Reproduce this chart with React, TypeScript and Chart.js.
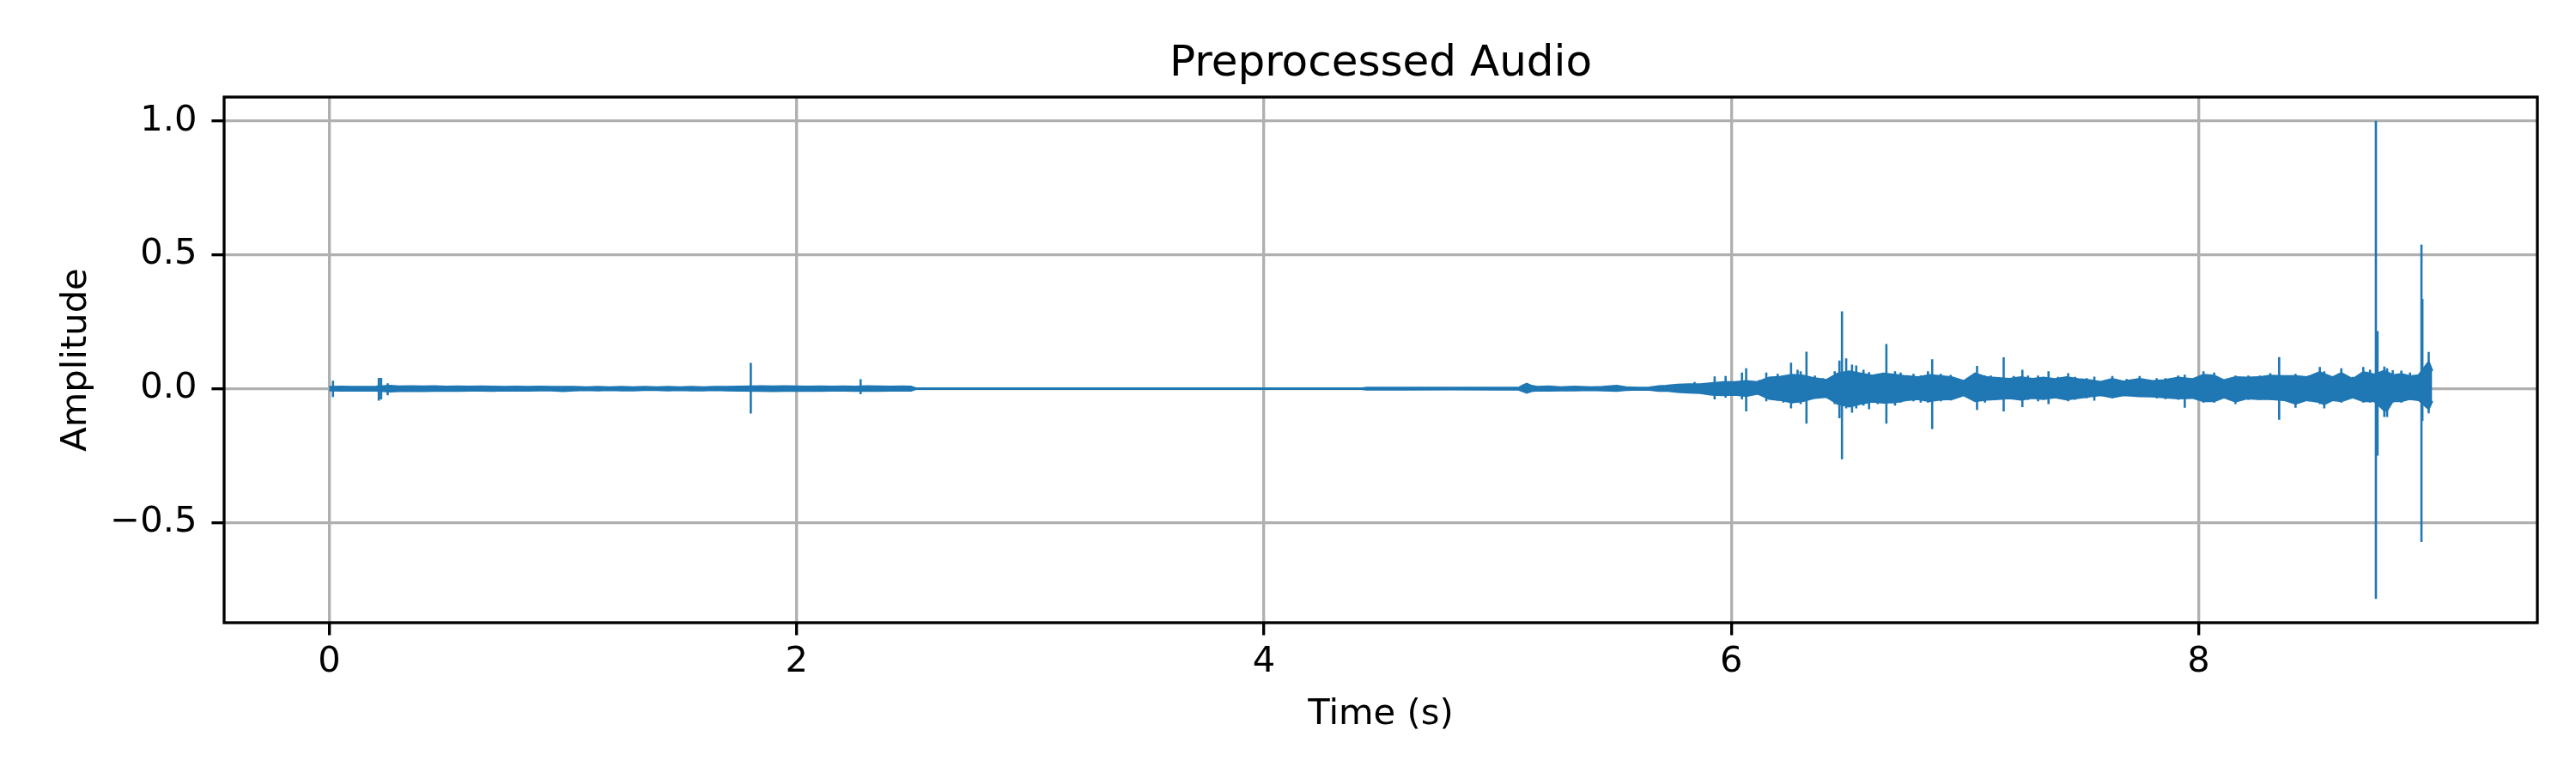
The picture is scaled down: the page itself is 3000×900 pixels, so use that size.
import React, { useEffect, useRef } from "react";
import { Chart, registerables } from "chart.js";

Chart.register(...registerables);

// ---- Data ----
const TITLE = "Preprocessed Audio";
const X_LABEL = "Time (s)";
const Y_LABEL = "Amplitude";

const X_TICKS = [0, 2, 4, 6, 8];
const Y_TICKS = [-0.5, 0, 0.5, 1.0];
const Y_TICK_LABELS = ["\u22120.5", "0.0", "0.5", "1.0"];

// Core envelope of the dense waveform (time s, upper, lower)
const ENV_T = [
  0.0, 0.05, 0.1, 0.15, 0.2, 0.26, 0.3, 0.35, 0.4, 0.45,
  0.5, 0.55, 0.6, 0.65, 0.7, 0.75, 0.8, 0.85, 0.9, 0.95,
  1.0, 1.05, 1.1, 1.15, 1.2, 1.25, 1.3, 1.35, 1.4, 1.45,
  1.5, 1.55, 1.6, 1.65, 1.7, 1.75, 1.85, 1.9, 1.95, 2.0,
  2.05, 2.1, 2.15, 2.2, 2.25, 2.3, 2.35, 2.4, 2.45, 2.49,
  2.51, 3.0, 3.5, 4.0, 4.42, 4.44, 4.6, 4.8, 5.0, 5.09,
  5.11, 5.125, 5.145, 5.17, 5.22, 5.27, 5.33, 5.4, 5.45, 5.51,
  5.55, 5.6, 5.65, 5.69, 5.721, 5.77, 5.819, 5.868, 5.917, 5.966,
  6.015, 6.064, 6.113, 6.162, 6.211, 6.26, 6.309, 6.358, 6.407, 6.456,
  6.505, 6.554, 6.603, 6.652, 6.701, 6.75, 6.799, 6.848, 6.897, 6.946,
  6.995, 7.044, 7.093, 7.142, 7.191, 7.24, 7.289, 7.337, 7.386, 7.435,
  7.484, 7.533, 7.582, 7.631, 7.68, 7.748, 7.803, 7.852, 7.913, 7.974,
  8.021, 8.067, 8.109, 8.158, 8.207, 8.256, 8.305, 8.366, 8.415, 8.464,
  8.519, 8.538, 8.574, 8.611, 8.66, 8.705, 8.734, 8.752, 8.795, 8.807,
  8.831, 8.868, 8.905, 8.942, 8.985, 9.0,
];
const ENV_HI = [
  0.006, 0.007, 0.006, 0.006, 0.007, 0.01, 0.008, 0.009, 0.008, 0.009,
  0.007, 0.008, 0.007, 0.008, 0.007, 0.006, 0.007, 0.006, 0.007, 0.006,
  0.006, 0.006, 0.005, 0.006, 0.005, 0.006, 0.005, 0.006, 0.005, 0.006,
  0.005, 0.006, 0.005, 0.006, 0.006, 0.007, 0.009, 0.008, 0.009, 0.008,
  0.007, 0.008, 0.007, 0.008, 0.007, 0.009, 0.008, 0.007, 0.008, 0.007,
  0.001, 0.0008, 0.0008, 0.0008, 0.001, 0.003, 0.003, 0.003, 0.003, 0.003,
  0.012, 0.018, 0.01, 0.006, 0.008, 0.005, 0.007, 0.005, 0.006, 0.01,
  0.005, 0.003, 0.004, 0.009, 0.01, 0.014, 0.016, 0.016, 0.02, 0.024,
  0.024, 0.028, 0.024, 0.041, 0.044, 0.051, 0.048, 0.038, 0.032, 0.056,
  0.064, 0.056, 0.048, 0.056, 0.051, 0.046, 0.042, 0.05, 0.046, 0.042,
  0.028, 0.056, 0.042, 0.039, 0.036, 0.042, 0.036, 0.041, 0.035, 0.042,
  0.035, 0.031, 0.025, 0.036, 0.026, 0.036, 0.028, 0.031, 0.041, 0.035,
  0.051, 0.048, 0.031, 0.042, 0.041, 0.042, 0.048, 0.046, 0.046, 0.042,
  0.061, 0.054, 0.042, 0.058, 0.035, 0.061, 0.056, 0.052, 0.066, 0.061,
  0.05, 0.054, 0.046, 0.05, 0.1, 0.066,
];
const ENV_LO = [
  -0.006, -0.007, -0.007, -0.006, -0.007, -0.01, -0.009, -0.008, -0.009, -0.008,
  -0.007, -0.008, -0.007, -0.007, -0.008, -0.006, -0.007, -0.007, -0.006, -0.006,
  -0.009, -0.006, -0.005, -0.006, -0.005, -0.006, -0.006, -0.005, -0.005, -0.006,
  -0.005, -0.006, -0.006, -0.005, -0.006, -0.007, -0.008, -0.009, -0.008, -0.008,
  -0.007, -0.008, -0.007, -0.007, -0.008, -0.008, -0.008, -0.007, -0.007, -0.007,
  -0.001, -0.0008, -0.0008, -0.0008, -0.001, -0.003, -0.003, -0.002, -0.003, -0.003,
  -0.01, -0.015, -0.009, -0.006, -0.007, -0.006, -0.006, -0.005, -0.006, -0.008,
  -0.005, -0.003, -0.004, -0.008, -0.007, -0.012, -0.014, -0.016, -0.022, -0.024,
  -0.022, -0.027, -0.018, -0.038, -0.042, -0.051, -0.046, -0.034, -0.03, -0.056,
  -0.066, -0.056, -0.048, -0.052, -0.05, -0.042, -0.038, -0.046, -0.04, -0.038,
  -0.024, -0.046, -0.041, -0.038, -0.035, -0.041, -0.034, -0.038, -0.032, -0.04,
  -0.034, -0.029, -0.024, -0.032, -0.024, -0.028, -0.029, -0.032, -0.036, -0.034,
  -0.046, -0.046, -0.032, -0.048, -0.036, -0.038, -0.038, -0.042, -0.056, -0.042,
  -0.05, -0.058, -0.042, -0.046, -0.032, -0.046, -0.046, -0.046, -0.081, -0.081,
  -0.046, -0.046, -0.038, -0.042, -0.076, -0.046,
];

// Individual spikes standing out of the band (time s, peak, trough)
const SPIKE_T = [
  0.016, 0.212, 0.222, 0.25, 1.804, 2.274, 5.843, 5.929, 5.976, 6.046,
  6.064, 6.119, 6.15, 6.174, 6.199, 6.223, 6.256, 6.284, 6.297, 6.322,
  6.358, 6.392, 6.443, 6.463, 6.474, 6.492, 6.517, 6.535, 6.566, 6.59,
  6.627, 6.664, 6.701, 6.725, 6.78, 6.811, 6.842, 6.86, 6.897, 6.939,
  7.019, 7.052, 7.086, 7.111, 7.166, 7.209, 7.246, 7.27, 7.313, 7.358,
  7.399, 7.442, 7.472, 7.521, 7.554, 7.631, 7.693, 7.748, 7.821, 7.858,
  7.913, 7.941, 8.021, 8.067, 8.158, 8.213, 8.262, 8.307, 8.345, 8.415,
  8.47, 8.519, 8.538, 8.611, 8.66, 8.705, 8.734, 8.759, 8.766, 8.795,
  8.807, 8.831, 8.868, 8.905, 8.954, 8.958, 8.985,
];
const SPIKE_HI = [
  0.03, 0.04, 0.04, 0.02, 0.096, 0.035, 0.025, 0.046, 0.047, 0.06,
  0.076, 0.032, 0.06, 0.039, 0.055, 0.049, 0.097, 0.071, 0.065, 0.138,
  0.049, 0.039, 0.065, 0.105, 0.289, 0.113, 0.09, 0.087, 0.071, 0.062,
  0.055, 0.167, 0.065, 0.06, 0.055, 0.049, 0.065, 0.11, 0.055, 0.051,
  0.039, 0.085, 0.049, 0.049, 0.117, 0.047, 0.071, 0.049, 0.049, 0.065,
  0.044, 0.058, 0.044, 0.039, 0.045, 0.047, 0.036, 0.047, 0.039, 0.039,
  0.049, 0.052, 0.065, 0.06, 0.049, 0.049, 0.049, 0.058, 0.118, 0.055,
  0.049, 0.081, 0.065, 0.076, 0.044, 0.081, 0.071, 1.0, 0.215, 0.083,
  0.076, 0.069, 0.067, 0.06, 0.538, 0.335, 0.137,
];
const SPIKE_LO = [
  -0.031, -0.045, -0.04, -0.025, -0.093, -0.021, -0.017, -0.04, -0.034, -0.04,
  -0.085, -0.024, -0.047, -0.036, -0.045, -0.052, -0.074, -0.052, -0.058, -0.131,
  -0.036, -0.031, -0.058, -0.111, -0.264, -0.074, -0.09, -0.074, -0.063, -0.077,
  -0.058, -0.131, -0.063, -0.052, -0.047, -0.052, -0.052, -0.151, -0.047, -0.044,
  -0.036, -0.079, -0.052, -0.042, -0.085, -0.036, -0.069, -0.042, -0.047, -0.058,
  -0.036, -0.047, -0.042, -0.036, -0.045, -0.036, -0.026, -0.028, -0.036, -0.039,
  -0.042, -0.071, -0.052, -0.052, -0.058, -0.042, -0.042, -0.042, -0.116, -0.071,
  -0.047, -0.058, -0.074, -0.052, -0.036, -0.052, -0.052, -0.785, -0.25, -0.106,
  -0.106, -0.052, -0.052, -0.042, -0.573, -0.12, -0.092,
];

const BLUE = "#1f77b4";
const FONT = "'DejaVu Sans', 'Liberation Sans', sans-serif";
const PX = 300 / 72; // points to pixels at 300 dpi

export default function App() {
  const ref = useRef<HTMLCanvasElement | null>(null);

  useEffect(() => {
    document.body.style.margin = "0";
    const canvas = ref.current;
    if (!canvas) return;

    const upper = ENV_T.map((t, i) => ({ x: t, y: ENV_HI[i] }));
    const lower = ENV_T.map((t, i) => ({ x: t, y: ENV_LO[i] }));
    const spikes: { x: number; y: number | null }[] = [];
    SPIKE_T.forEach((t, i) => {
      spikes.push({ x: t, y: SPIKE_LO[i] });
      spikes.push({ x: t, y: SPIKE_HI[i] });
      spikes.push({ x: t, y: null });
    });

    const allY = [...ENV_HI, ...ENV_LO, ...SPIKE_HI, ...SPIKE_LO];
    const yMinD = Math.min(...allY);
    const yMaxD = Math.max(...allY);
    const yR = yMaxD - yMinD;
    const xMinD = Math.min(ENV_T[0], ...SPIKE_T);
    const xMaxD = Math.max(ENV_T[ENV_T.length - 1], ...SPIKE_T);
    const xR = xMaxD - xMinD;

    const frame = {
      id: "frame",
      afterDraw(chart: any) {
        const { ctx, chartArea } = chart;
        ctx.save();
        ctx.strokeStyle = "#000";
        ctx.lineWidth = 0.8 * PX;
        ctx.strokeRect(chartArea.left, chartArea.top, chartArea.right - chartArea.left, chartArea.bottom - chartArea.top);
        ctx.restore();
      },
    };

    const lineCommon = {
      borderColor: BLUE,
      backgroundColor: BLUE,
      borderWidth: 2.6,
      pointRadius: 0,
      tension: 0,
    };

    const chart = new Chart(canvas, {
      type: "line",
      data: {
        datasets: [
          { ...lineCommon, label: "upper", data: upper, fill: false },
          { ...lineCommon, label: "lower", data: lower, fill: "-1" },
          { ...lineCommon, label: "spikes", data: spikes as any, fill: false, spanGaps: false },
        ],
      },
      options: {
        animation: false,
        responsive: false,
        devicePixelRatio: 1,
        layout: { padding: { left: 0, right: 45, top: 0, bottom: 0 } },
        plugins: {
          legend: { display: false },
          tooltip: { enabled: false },
          title: {
            display: true,
            fullSize: false,
            text: TITLE,
            color: "#000",
            font: { family: FONT, size: 12 * PX, weight: "normal", lineHeight: 1.2 },
            padding: { top: 45, bottom: 8 },
          },
        },
        scales: {
          x: {
            type: "linear",
            min: xMinD - 0.05 * xR,
            max: xMaxD + 0.05 * xR,
            afterBuildTicks: (scale: any) => {
              scale.ticks = X_TICKS.map((v) => ({ value: v }));
            },
            afterFit: (scale: any) => {
              scale.height = 175;
            },
            ticks: {
              color: "#000",
              font: { family: FONT, size: 10 * PX },
              padding: 6.5,
              maxRotation: 0,
              autoSkip: false,
              callback: (v: any) => String(v),
            },
            grid: {
              color: "#b0b0b0",
              lineWidth: 0.8 * PX,
              tickColor: "#000",
              tickWidth: 0.8 * PX,
              tickLength: 3.5 * PX,
            },
            border: { display: false },
            title: {
              display: true,
              text: X_LABEL,
              color: "#000",
              font: { family: FONT, size: 10 * PX, lineHeight: 1.2 },
              padding: { top: 0, bottom: 43 },
            },
          },
          y: {
            type: "linear",
            min: yMinD - 0.05 * yR,
            max: yMaxD + 0.05 * yR,
            afterBuildTicks: (scale: any) => {
              scale.ticks = Y_TICKS.map((v) => ({ value: v }));
            },
            afterFit: (scale: any) => {
              scale.width = 261;
            },
            ticks: {
              color: "#000",
              font: { family: FONT, size: 10 * PX },
              padding: 17,
              autoSkip: false,
              callback: (_v: any, i: number) => Y_TICK_LABELS[i],
            },
            grid: {
              color: "#b0b0b0",
              lineWidth: 0.8 * PX,
              tickColor: "#000",
              tickWidth: 0.8 * PX,
              tickLength: 3.5 * PX,
            },
            border: { display: false },
            title: {
              display: true,
              text: Y_LABEL,
              color: "#000",
              font: { family: FONT, size: 10 * PX, lineHeight: 1.2 },
              padding: { top: 64, bottom: 0 },
            },
          },
        },
      },
      plugins: [frame],
    } as any);

    return () => chart.destroy();
  }, []);

  return (
    <div style={{ width: 3000, height: 900 }}>
      <canvas ref={ref} width={3000} height={900} style={{ display: "block", width: 3000, height: 900 }} />
    </div>
  );
}
